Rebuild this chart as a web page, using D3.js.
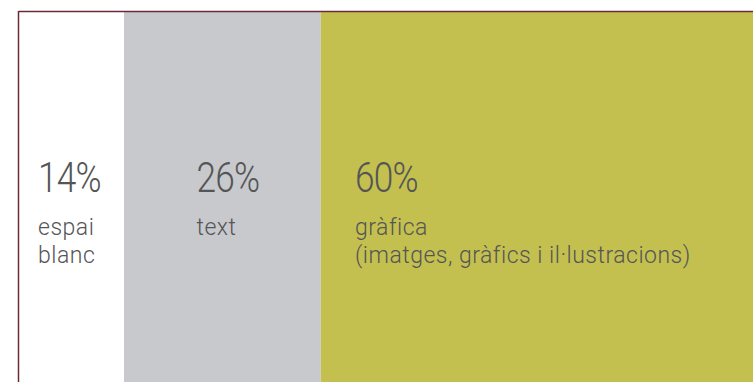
<!DOCTYPE html>
<html>
<head>
<meta charset="utf-8">
<script src="https://cdn.jsdelivr.net/npm/d3@7"></script>
<style>
	body { margin: 0; background: #fff; }
	svg { display: block; }
	text { font-family: Roboto, "Open Sans", sans-serif; font-weight: 300; fill: #555; }
</style>
</head>
<body>
<svg class="bar-chart" width="753" height="382"></svg>
<script>
const categories = ["espai blanc", "text", "gràfica"];
const shares = [14, 26, 60];
const percentLabels = ["14%", "26%", "60%"];
const captionLines = [["espai", "blanc"], ["text"], ["gràfica", "(imatges, gràfics i il·lustracions)"]];
const colors = ["#ffffff", "#c8c9cd", "#c3c050"];

function stackedBar(element) {
	const svg = d3.select(element);
	const width = +svg.attr("width");
	const height = +svg.attr("height");

	const x = d3.scaleLinear()
		.domain([0, 100])
		.range([18, 775]);

	const stack = d3.cumsum(shares);
	const segments = categories.map((c, i) => ({
		name: c,
		start: stack[i] - shares[i],
		end: stack[i],
		color: colors[i],
		pct: percentLabels[i],
		lines: captionLines[i]
	}));

	svg.selectAll("rect.seg")
		.data(segments)
		.enter().append("rect")
		.attr("class", "seg")
		.attr("x", (d) => x(d.start))
		.attr("y", 12)
		.attr("width", (d) => x(d.end) - x(d.start))
		.attr("height", height)
		.attr("fill", (d) => d.color);

	// frame lines (top and left)
	svg.append("line")
		.attr("x1", 18.5).attr("x2", width)
		.attr("y1", 11.5).attr("y2", 11.5)
		.attr("stroke", "#6b2a3a")
		.attr("stroke-width", 1.5);
	svg.append("line")
		.attr("x1", 18.5).attr("x2", 18.5)
		.attr("y1", 11).attr("y2", height)
		.attr("stroke", "#6b2a3a")
		.attr("stroke-width", 1.5);

	// labels sit in equally spaced columns
	const labelX = (d, i) => 38 + i * 158.5;

	const lab = svg.selectAll("g.lab")
		.data(segments)
		.enter().append("g")
		.attr("class", "lab")
		.attr("transform", (d, i) => "translate(" + labelX(d, i) + ",0)");

	// big numbers: narrow them a bit, the original face is condensed
	lab.append("text")
		.attr("transform", "translate(0,192) scale(0.84,1)")
		.style("font-size", "42px")
		.style("letter-spacing", "-1px")
		.text((d) => d.pct);

	lab.selectAll("text.cap")
		.data((d) => d.lines)
		.enter().append("text")
		.attr("class", "cap")
		.attr("y", (d, i) => 235 + i * 28)
		.style("font-size", "23px")
		.style("letter-spacing", "0.5px")
		.text((d) => d);
}

stackedBar(".bar-chart");
</script>
</body>
</html>
